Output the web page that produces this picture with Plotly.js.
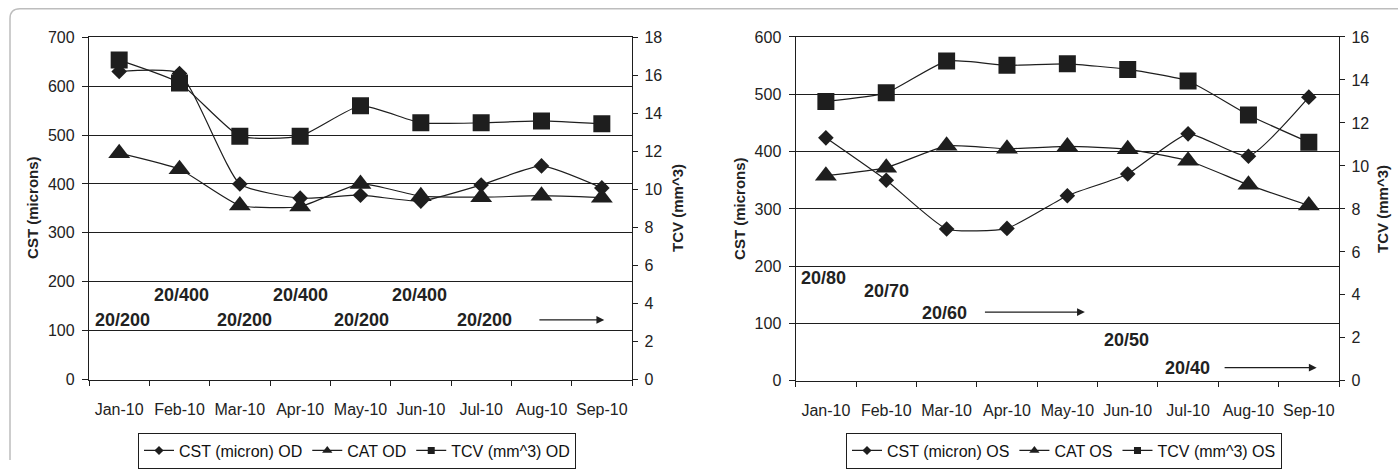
<!DOCTYPE html>
<html><head><meta charset="utf-8">
<script src="https://cdn.plot.ly/plotly-3.0.1.min.js"></script>
<style>html,body{margin:0;padding:0;background:#fff}#chart{width:1398px;height:469px}</style>
</head><body><div id="chart"></div>
<script>
// ---------- data ----------
const months = ['Jan-10','Feb-10','Mar-10','Apr-10','May-10','Jun-10','Jul-10','Aug-10','Sep-10'];

// Right eye (OD)
const cstOD = [630, 626, 400, 371, 377, 365, 398, 437, 392];
const catOD = [463, 430, 356, 354, 400, 375, 373, 376, 372];
const tcvOD = [16.8, 15.6, 12.8, 12.8, 14.4, 13.5, 13.5, 13.6, 13.45];

// Left eye (OS)
const cstOS = [424, 350, 265, 266, 323, 361, 431, 392, 495];
const catOS = [358, 372, 410, 405, 409, 404, 384, 342, 306];
const tcvOS = [13.0, 13.4, 14.88, 14.68, 14.75, 14.49, 13.95, 12.37, 11.1];

// Visual acuity labels
const vaOD = ['20/200','20/400','20/200','20/400','20/200','20/400','20/200'];
const vaOS = ['20/80','20/70','20/60','20/50','20/40'];

const seriesNamesOD = ['CST (micron) OD','CAT OD','TCV (mm^3) OD'];
const seriesNamesOS = ['CST (micron) OS','CAT OS','TCV (mm^3) OS'];

// ---------- styling / layout ----------
const W = 1398, H = 469;
const px = x => x / W;
const py = y => 1 - y / H;
const INK = '#1e1e1e';
const FONT = '"Liberation Sans", Arial, sans-serif';
const LINE = {color: INK, width: 1.2, shape: 'spline', smoothing: 0.5};

function series(x, y, name, sym, size, xa, ya) {
  return {x: x, y: y, name: name, type: 'scatter', mode: 'lines+markers',
    xaxis: xa, yaxis: ya, line: LINE, showlegend: false,
    marker: {symbol: sym, size: size, color: INK, line: {width: 0}}, hoverinfo: 'skip'};
}
function legendItem(name, sym, size, leg) {
  return {x: [null], y: [null], name: name, type: 'scatter', mode: 'lines+markers',
    xaxis: 'x', yaxis: 'y', legend: leg, showlegend: true,
    line: {color: INK, width: 1.2}, marker: {symbol: sym, size: size, color: INK}};
}

const syms = ['diamond','triangle-up','square'];
const sizes = [12, 19, 17];
const legSizes = [7, 9, 7];

const traces = [
  series(months, cstOD, seriesNamesOD[0], syms[0], sizes[0], 'x', 'y'),
  series(months, catOD, seriesNamesOD[1], syms[1], sizes[1], 'x', 'y'),
  series(months, tcvOD, seriesNamesOD[2], syms[2], sizes[2], 'x', 'y2'),
  series(months, cstOS, seriesNamesOS[0], syms[0], sizes[0], 'x2', 'y3'),
  series(months, catOS, seriesNamesOS[1], syms[1], sizes[1], 'x2', 'y3'),
  series(months, tcvOS, seriesNamesOS[2], syms[2], sizes[2], 'x2', 'y4'),
];
for (let i = 0; i < 3; i++) traces.push(legendItem(seriesNamesOD[i], syms[i], legSizes[i], 'legend'));
for (let i = 0; i < 3; i++) traces.push(legendItem(seriesNamesOS[i], syms[i], legSizes[i], 'legend2'));

const tickFont = {family: FONT, size: 16, color: '#222'};
function xAxis(domain, anchor) {
  return {domain: domain, anchor: anchor, type: 'category', range: [-0.5, 8.5],
    tickson: 'boundaries', ticks: 'outside', ticklen: 5, tickcolor: INK, tickangle: 0,
    showline: true, mirror: true, linecolor: INK, linewidth: 1.2, showgrid: false,
    tickfont: tickFont, ticklabelstandoff: 15, fixedrange: true};
}
function yLeft(domain, anchor, max) {
  return {domain: domain, anchor: anchor, range: [0, max], dtick: 100,
    ticks: 'outside', ticklen: 6, tickcolor: INK, showline: true, linecolor: INK, linewidth: 1.2,
    showgrid: true, gridcolor: INK, gridwidth: 1, zeroline: false,
    tickfont: tickFont, ticklabelstandoff: 4, fixedrange: true};
}
function yRight(over, anchor, max, inside) {
  const a = {overlaying: over, anchor: anchor, side: 'right', range: [0, max], dtick: 2,
    ticks: inside ? 'inside' : 'outside', ticklen: 5, tickcolor: INK,
    showline: !inside, linecolor: INK, linewidth: 1.2, showgrid: false, zeroline: false,
    tickfont: tickFont, ticklabelstandoff: 3, fixedrange: true};
  if (inside) a.showticklabels = false;
  return a;
}

const yDomL = [py(387), py(38)];
const yDomR = [py(388.3), py(37.7)];

const annFont = {family: FONT, size: 18, color: '#222', weight: 'bold'};
const annotations = [];
// OD visual acuity positions (category index, CST value)
const posOD = [[0.05,121],[1.04,172],[2.07,121],[3.01,172],[4.02,121],[4.97,172],[6.06,121]];
vaOD.forEach((t, i) => annotations.push({xref: 'x', yref: 'y', x: posOD[i][0], y: posOD[i][1],
  text: '<b>' + t + '</b>', showarrow: false, font: annFont}));
annotations.push({xref: 'x', yref: 'y', axref: 'x', ayref: 'y', x: 8.04, y: 122, ax: 6.94, ay: 122,
  text: '', showarrow: true, arrowhead: 2, arrowsize: 1.3, arrowwidth: 1.2, arrowcolor: INK});
const posOS = [[-0.04,180],[1.01,156],[1.97,119],[4.98,72],[5.99,22]];
vaOS.forEach((t, i) => annotations.push({xref: 'x2', yref: 'y3', x: posOS[i][0], y: posOS[i][1],
  text: '<b>' + t + '</b>', showarrow: false, font: annFont}));
annotations.push({xref: 'x2', yref: 'y3', axref: 'x2', ayref: 'y3', x: 4.29, y: 120, ax: 2.61, ay: 120,
  text: '', showarrow: true, arrowhead: 2, arrowsize: 1.3, arrowwidth: 1.2, arrowcolor: INK});
annotations.push({xref: 'x2', yref: 'y3', axref: 'x2', ayref: 'y3', x: 8.13, y: 23, ax: 6.58, ay: 23,
  text: '', showarrow: true, arrowhead: 2, arrowsize: 1.3, arrowwidth: 1.2, arrowcolor: INK});

// axis titles
const titleFont = {family: FONT, size: 15, color: '#222', weight: 'bold'};
[[33, 212, 'CST (microns)'], [678, 212, 'TCV (mm^3)'], [740, 213, 'CST (microns)'], [1383, 213, 'TCV (mm^3)']]
  .forEach(([x, y, t]) => annotations.push({xref: 'paper', yref: 'paper', x: px(x), y: py(y),
    text: '<b>' + t + '</b>', textangle: -90, showarrow: false, font: titleFont,
    xanchor: 'center', yanchor: 'middle'}));

const frame = `M ${px(10)},${py(469)} L ${px(10)},${py(19)} Q ${px(10)},${py(9)} ${px(20)},${py(9)} L ${px(1398)},${py(9)}`;

const legendBase = {orientation: 'h', xanchor: 'left', yanchor: 'top', bordercolor: INK, borderwidth: 1,
  bgcolor: '#fff', font: {family: FONT, size: 16, color: '#111'}, itemwidth: 30, traceorder: 'normal'};

const layout = {
  width: W, height: H, margin: {l: 0, r: 0, t: 0, b: 0},
  paper_bgcolor: '#fff', plot_bgcolor: 'rgba(0,0,0,0)',
  font: {family: FONT, color: '#222'},
  xaxis: xAxis([px(89), px(632)], 'y'),
  yaxis: yLeft(yDomL, 'x', 700),
  yaxis2: yRight('y', 'x', 18, false),
  yaxis5: yRight('y', 'x', 18, true),
  xaxis2: xAxis([px(795.7), px(1339)], 'y3'),
  yaxis3: yLeft(yDomR, 'x2', 600),
  yaxis4: yRight('y3', 'x2', 16, false),
  yaxis6: yRight('y3', 'x2', 16, true),
  legend: Object.assign({x: px(138), y: py(441)}, legendBase),
  legend2: Object.assign({x: px(846), y: py(441)}, legendBase),
  annotations: annotations,
  shapes: [{type: 'path', xref: 'paper', yref: 'paper', path: frame, line: {color: '#bdbdbd', width: 1.5}}],
  showlegend: true
};

Plotly.newPlot('chart', traces, layout, {displayModeBar: false, staticPlot: true});
</script>
</body></html>
